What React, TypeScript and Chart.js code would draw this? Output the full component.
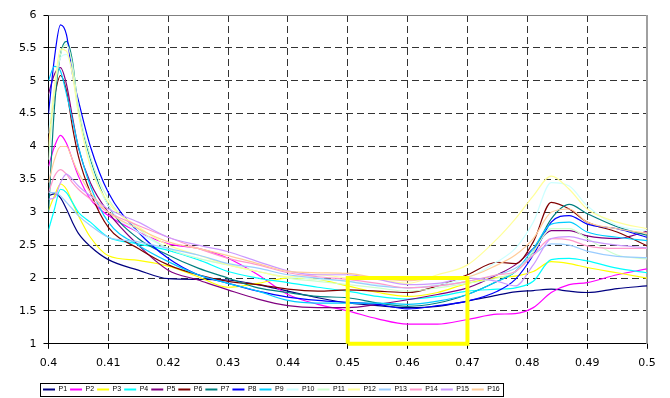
import React, { useEffect, useRef } from "react";
import { Chart, registerables } from "chart.js";

Chart.register(...registerables);

const xValues = [0.4, 0.401, 0.402, 0.403, 0.404, 0.405, 0.407, 0.41, 0.415, 0.42, 0.425, 0.43, 0.435, 0.44, 0.445, 0.45, 0.455, 0.46, 0.465, 0.47, 0.475, 0.478, 0.481, 0.484, 0.487, 0.49, 0.495, 0.5];

const P1 = [3.25, 3.28, 3.22, 3.05, 2.85, 2.68, 2.48, 2.28, 2.12, 1.99, 1.98, 1.97, 1.9, 1.8, 1.7, 1.62, 1.58, 1.55, 1.57, 1.65, 1.74, 1.79, 1.81, 1.83, 1.8, 1.78, 1.84, 1.88];
const P2 = [3.7, 4.0, 4.17, 4.05, 3.8, 3.55, 3.2, 2.95, 2.7, 2.52, 2.45, 2.3, 2.05, 1.75, 1.6, 1.5, 1.38, 1.3, 1.3, 1.37, 1.45, 1.46, 1.55, 1.78, 1.9, 1.93, 2.05, 2.14];
const P3 = [3.03, 3.25, 3.43, 3.35, 3.15, 2.95, 2.62, 2.34, 2.27, 2.18, 2.02, 1.86, 1.92, 2.0, 1.98, 1.88, 1.78, 1.72, 1.78, 1.92, 2.01, 2.03, 2.1, 2.25, 2.22, 2.16, 2.08, 2.0];
const P4 = [2.73, 3.05, 3.35, 3.3, 3.15, 3.0, 2.85, 2.62, 2.52, 2.42, 2.28, 2.1, 2.0, 1.93, 1.86, 1.8, 1.72, 1.68, 1.72, 1.8, 1.83, 1.85, 1.95, 2.28, 2.3, 2.26, 2.15, 2.08];
const P5 = [4.8, 5.1, 5.2, 4.95, 4.45, 3.98, 3.45, 3.0, 2.5, 2.12, 1.97, 1.82, 1.68, 1.58, 1.55, 1.55, 1.6, 1.67, 1.75, 1.85, 2.05, 2.2, 2.45, 2.72, 2.72, 2.64, 2.6, 2.71];
const P6 = [4.1, 4.75, 5.08, 4.85, 4.3, 3.85, 3.3, 2.77, 2.45, 2.2, 2.05, 1.95, 1.9, 1.83, 1.8, 1.82, 1.8, 1.78, 1.88, 2.05, 2.24, 2.22, 2.55, 3.15, 3.05, 2.85, 2.7, 2.49];
const P7 = [3.0, 4.6, 5.4, 5.6, 5.3, 4.55, 3.8, 3.1, 2.6, 2.35, 2.15, 2.0, 1.85, 1.78, 1.72, 1.7, 1.62, 1.57, 1.62, 1.75, 1.95, 2.1, 2.4, 2.9, 3.12, 2.98, 2.78, 2.65];
const P8 = [4.5, 5.35, 5.85, 5.7, 5.1, 4.7, 4.0, 3.3, 2.7, 2.3, 2.05, 1.92, 1.8, 1.71, 1.66, 1.63, 1.6, 1.53, 1.58, 1.65, 1.8, 1.98, 2.35, 2.85, 2.95, 2.82, 2.75, 2.62];
const P9 = [5.0, 5.22, 5.15, 4.8, 4.4, 4.0, 3.4, 2.85, 2.5, 2.25, 2.05, 1.92, 1.8, 1.66, 1.62, 1.62, 1.62, 1.6, 1.65, 1.75, 1.95, 2.1, 2.45, 2.82, 2.85, 2.7, 2.62, 2.57];
const P10 = [4.2, 4.9, 5.35, 5.4, 5.1, 4.5, 3.75, 3.1, 2.7, 2.45, 2.3, 2.2, 2.1, 2.02, 1.98, 1.95, 1.9, 1.85, 1.9, 2.0, 2.25, 2.45, 2.85, 3.45, 3.4, 3.1, 2.8, 2.72];
const P11 = [3.8, 4.8, 5.4, 5.55, 5.25, 4.6, 3.85, 3.2, 2.75, 2.45, 2.3, 2.2, 2.1, 2.0, 1.95, 1.9, 1.85, 1.8, 1.85, 1.92, 2.0, 2.1, 2.4, 2.75, 2.75, 2.6, 2.35, 2.29];
const P12 = [4.0, 4.9, 5.48, 5.45, 5.1, 4.5, 3.7, 3.15, 2.78, 2.5, 2.35, 2.2, 2.1, 2.02, 2.05, 2.0, 1.98, 1.92, 2.05, 2.2, 2.6, 2.9, 3.25, 3.55, 3.35, 3.05, 2.85, 2.75];
const P13 = [3.3, 3.3, 3.25, 3.15, 3.05, 2.95, 2.8, 2.62, 2.55, 2.45, 2.35, 2.22, 2.15, 2.05, 2.0, 1.95, 1.88, 1.85, 1.88, 1.95, 2.05, 2.15, 2.35, 2.52, 2.5, 2.41, 2.33, 2.31];
const P14 = [3.3, 3.55, 3.65, 3.58, 3.45, 3.35, 3.2, 3.0, 2.8, 2.62, 2.45, 2.3, 2.2, 2.08, 2.02, 1.98, 1.92, 1.85, 1.88, 1.95, 2.05, 2.1, 2.35, 2.6, 2.58, 2.49, 2.45, 2.45];
const P15 = [3.2, 3.22, 3.45, 3.58, 3.5, 3.4, 3.25, 3.05, 2.85, 2.62, 2.5, 2.4, 2.25, 2.11, 2.05, 2.05, 1.98, 1.9, 1.92, 2.0, 1.95, 1.88, 2.2, 2.6, 2.63, 2.57, 2.5, 2.46];
const P16 = [3.45, 3.8, 4.0, 4.0, 3.8, 3.6, 3.3, 3.0, 2.75, 2.55, 2.45, 2.34, 2.22, 2.1, 2.08, 2.07, 2.0, 1.96, 2.0, 2.02, 2.2, 2.35, 2.6, 3.0, 3.05, 2.85, 2.75, 2.68];

const seriesNames = ["P1", "P2", "P3", "P4", "P5", "P6", "P7", "P8", "P9", "P10", "P11", "P12", "P13", "P14", "P15", "P16"];
const seriesValues = [P1, P2, P3, P4, P5, P6, P7, P8, P9, P10, P11, P12, P13, P14, P15, P16];
const seriesColors = ["#000080", "#FF00FF", "#FFFF00", "#00FFFF", "#800080", "#800000", "#008080", "#0000FF", "#00CCFF", "#CCFFFF", "#CCFFCC", "#FFFF99", "#99CCFF", "#FF99CC", "#CC99FF", "#FFCC99"];

// highlighted region (yellow box)
const boxX = [0.45, 0.45, 0.47, 0.47, 0.45];
const boxY = [1, 2, 2, 1, 1];

const LEGEND_LEFT = 40;
const LEGEND_TOP = 383;

const legendPlacer = {
  id: "legendPlacer",
  afterLayout(chart: any) {
    const lg = chart.legend;
    if (!lg) return;
    const h = lg.height;
    lg.left = LEGEND_LEFT;
    lg.right = chart.width;
    lg.top = LEGEND_TOP;
    lg.bottom = LEGEND_TOP + h;
  },
  afterDraw(chart: any) {
    const lg = chart.legend;
    if (!lg || !lg.legendHitBoxes || !lg.legendHitBoxes.length) return;
    const hb = lg.legendHitBoxes;
    const first = hb[0];
    const last = hb[hb.length - 1];
    const x0 = Math.round(first.left - 3) + 0.5;
    const x1 = Math.round(last.left + last.width + 3) + 0.5;
    const y0 = Math.round(first.top - 3) + 0.5;
    const y1 = Math.round(first.top + first.height + 3) + 0.5;
    const ctx = chart.ctx;
    ctx.save();
    ctx.strokeStyle = "#000";
    ctx.lineWidth = 1;
    ctx.strokeRect(x0, y0, x1 - x0, y1 - y0);
    ctx.restore();
  },
};

const plotFrame = {
  id: "plotFrame",
  beforeDatasetsDraw(chart: any) {
    const { ctx, chartArea } = chart;
    ctx.save();
    ctx.strokeStyle = "#808080";
    ctx.lineWidth = 1;
    ctx.beginPath();
    ctx.moveTo(chartArea.left, Math.round(chartArea.top) + 0.5);
    ctx.lineTo(chartArea.right, Math.round(chartArea.top) + 0.5);
    ctx.stroke();
    ctx.strokeStyle = "#a0a0a0";
    ctx.lineWidth = 2;
    ctx.beginPath();
    ctx.moveTo(Math.round(chartArea.right), chartArea.top);
    ctx.lineTo(Math.round(chartArea.right), chartArea.bottom);
    ctx.stroke();
    ctx.restore();
  },
};

export default function App() {
  const ref = useRef<HTMLCanvasElement | null>(null);
  useEffect(() => {
    if (!ref.current) return;
    const datasets: any[] = seriesValues.map((vals, i) => ({
      label: seriesNames[i],
      data: vals.map((y, j) => ({ x: xValues[j], y })),
      borderColor: seriesColors[i],
      backgroundColor: seriesColors[i],
      pointBorderColor: seriesColors[i],
      pointBackgroundColor: seriesColors[i],
      borderWidth: 1.2,
      pointRadius: 0,
      cubicInterpolationMode: "monotone",
      fill: false,
      order: 16 - i,
    }));
    datasets.push({
      label: "box",
      data: boxX.map((x, j) => ({ x, y: boxY[j] })),
      borderColor: "#FFFF00",
      backgroundColor: "#FFFF00",
      borderWidth: 4,
      pointRadius: 0,
      tension: 0,
      fill: false,
      order: -1,
      clip: 4,
    });
    const tickFont = { family: "'DejaVu Sans', sans-serif", size: 11 };
    const defaultLabels = (Chart as any).defaults.plugins.legend.labels.generateLabels;
    const chart = new Chart(ref.current, {
      type: "line",
      data: { datasets },
      options: {
        animation: false,
        responsive: true,
        maintainAspectRatio: false,
        layout: { padding: { left: 12, right: 23, top: 15, bottom: 0 } },
        plugins: {
          tooltip: { enabled: false },
          legend: {
            position: "bottom",
            align: "start",
            labels: {
              usePointStyle: true,
              pointStyle: "line",
              pointStyleWidth: 12,
              padding: 3,
              color: "#000",
              font: { family: "'Liberation Sans', Arial, sans-serif", size: 7 },
              generateLabels: (c: any) =>
                defaultLabels(c).map((it: any) => ({
                  ...it,
                  strokeStyle: seriesColors[it.datasetIndex] || it.strokeStyle,
                  fillStyle: seriesColors[it.datasetIndex] || it.fillStyle,
                  lineWidth: 2,
                })),
              filter: (item: any) => item.datasetIndex < 16,
              sort: (a: any, b: any) => a.datasetIndex - b.datasetIndex,
            },
          },
        },
        scales: {
          x: {
            type: "linear",
            min: 0.4,
            max: 0.5,
            ticks: {
              stepSize: 0.01,
              autoSkip: false,
              maxRotation: 0,
              padding: 8,
              color: "#000",
              font: tickFont,
              callback: (v: any) => Number(v).toFixed(2).replace(/0$/, ""),
            },
            grid: { color: "#333", lineWidth: 1, tickLength: 5, tickColor: "#000", tickBorderDash: [], drawTicks: true },
            border: { display: true, color: "#000", width: 1, dash: [7, 4] },
          },
          y: {
            type: "linear",
            min: 1,
            max: 6,
            ticks: {
              stepSize: 0.5,
              padding: 7,
              color: "#000",
              font: tickFont,
              callback: (v: any) => String(Number(Number(v).toFixed(1))),
            },
            grid: { color: "#333", lineWidth: 1, tickLength: 5, tickColor: "#000", tickBorderDash: [], drawTicks: true },
            border: { display: true, color: "#000", width: 1, dash: [7, 4] },
          },
        },
      },
      plugins: [legendPlacer, plotFrame],
    });
    return () => chart.destroy();
  }, []);
  return (
    <div style={{ position: "fixed", left: 0, top: 0, width: 670, height: 398, background: "#fff" }}>
      <canvas ref={ref} />
    </div>
  );
}
